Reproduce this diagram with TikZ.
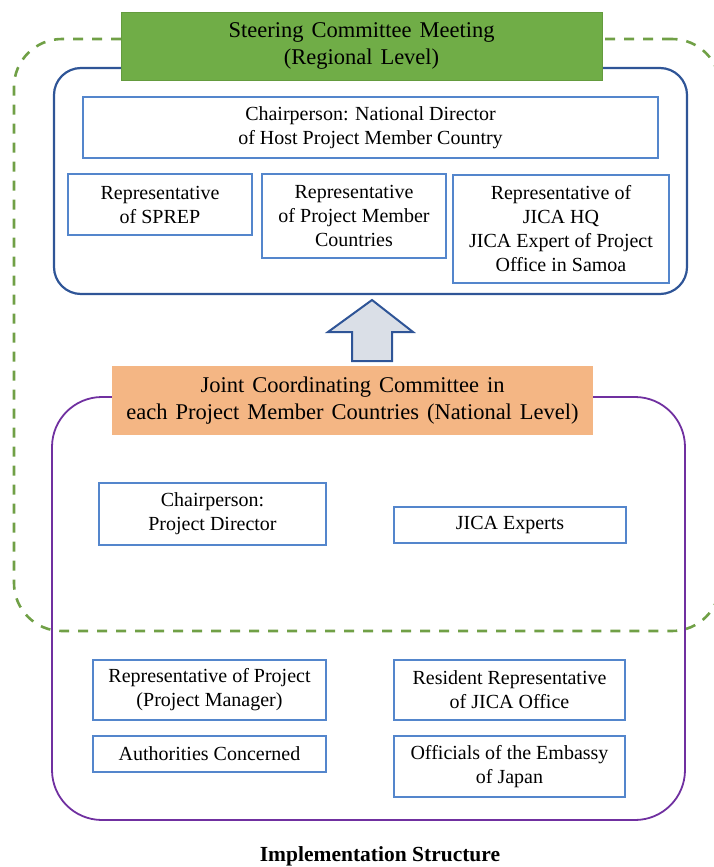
\documentclass[tikz,border=0pt]{standalone}
\usepackage{fontspec}
\setmainfont{Liberation Serif}
\definecolor{dashgreen}{RGB}{112,160,70}
\definecolor{headgreen}{RGB}{112,173,71}
\definecolor{headgreenline}{RGB}{100,155,62}
\definecolor{outerblue}{RGB}{47,85,151}
\definecolor{innerblue}{RGB}{84,134,204}
\definecolor{framepurple}{RGB}{112,48,160}
\definecolor{headorange}{RGB}{244,182,132}
\definecolor{arrowfill}{RGB}{218,223,231}
\newcommand{\bodyfont}{\fontsize{20}{24}\selectfont}
\newcommand{\headfont}{\fontsize{22.5}{27.5}\selectfont\spaceskip=8pt plus 2pt minus 1pt\relax}
\tikzset{
  ibox/.style={draw=innerblue, line width=1.3pt, align=center, inner sep=0pt, font=\bodyfont, fill=white},
  frame/.style={rounded corners=#1, inner sep=0pt},
  headbox/.style={inner sep=0pt, align=center, font=\headfont}
}
\begin{document}
\begin{tikzpicture}[x=1pt,y=-1pt]
\useasboundingbox (0,0) rectangle (714,867);
% dashed regional frame
\node[frame=48pt, draw=dashgreen, line width=2.6pt, dash pattern=on 10pt off 9pt,
      minimum width=706pt, minimum height=592pt] (regional) at (367,335) {};
% blue steering committee frame
\node[frame=27pt, draw=outerblue, line width=2.2pt, fill=white,
      minimum width=633pt, minimum height=226pt] (steer) at (370.5,181) {};
% purple national frame
\node[frame=50pt, draw=framepurple, line width=1.8pt,
      minimum width=633pt, minimum height=423pt] (national) at (368.5,608.5) {};
% header boxes
\node[headbox, fill=headgreen, draw=headgreenline, line width=0.8pt,
      minimum width=481pt, minimum height=68pt] (sch) at (361.5,46)
      {Steering Committee Meeting\\(Regional Level)};
\node[headbox, fill=headorange, minimum width=481pt, minimum height=69pt] (jcc) at (352.5,400.5)
      {Joint Coordinating Committee in\\each Project Member Countries (National Level)};
% steering committee members
\node[ibox, minimum width=575pt, minimum height=61pt] (chair) at (370.5,127.5)
      {Chairperson: National Director\\of Host Project Member Country};
\node[ibox, minimum width=184pt, minimum height=61pt] (sprep) at (160,204.5)
      {Representative\\of SPREP};
\node[ibox, minimum width=184pt, minimum height=84pt] (pmc) at (354,216)
      {Representative\\of Project Member\\Countries};
\node[ibox, minimum width=216pt, minimum height=108pt] (jicahq) at (561,229)
      {Representative of\\JICA HQ\\JICA Expert of Project\\Office in Samoa};
% block arrow
\coordinate (arrbase) at (372,361);
\draw[draw=outerblue, fill=arrowfill, line width=2pt, line join=miter]
  ([xshift=-20pt]arrbase) -- ++(0,-29) -- ++(-24,0) -- (372,300) -- (413,332)
  -- ++(-21,0) -- ([xshift=20pt]arrbase) -- cycle;
% national members
\node[ibox, minimum width=227pt, minimum height=62pt] (pd) at (212.5,514)
      {Chairperson:\\Project Director};
\node[ibox, minimum width=232pt, minimum height=36pt] (jexp) at (510,525)
      {JICA Experts};
\node[ibox, minimum width=233pt, minimum height=60pt] (pm) at (209.5,690)
      {Representative of Project\\(Project Manager)};
\node[ibox, minimum width=231pt, minimum height=60pt] (rr) at (509.5,690)
      {Resident Representative\\of JICA Office};
\node[ibox, minimum width=233pt, minimum height=36pt] (auth) at (209.5,754)
      {Authorities Concerned};
\node[ibox, minimum width=231pt, minimum height=61pt] (emb) at (509.5,766.5)
      {Officials of the Embassy\\of Japan};
% caption
\node[font=\fontsize{21.5}{25}\selectfont\bfseries, inner sep=0pt] (cap) at (380,856)
      {Implementation Structure};
\end{tikzpicture}
\end{document}
